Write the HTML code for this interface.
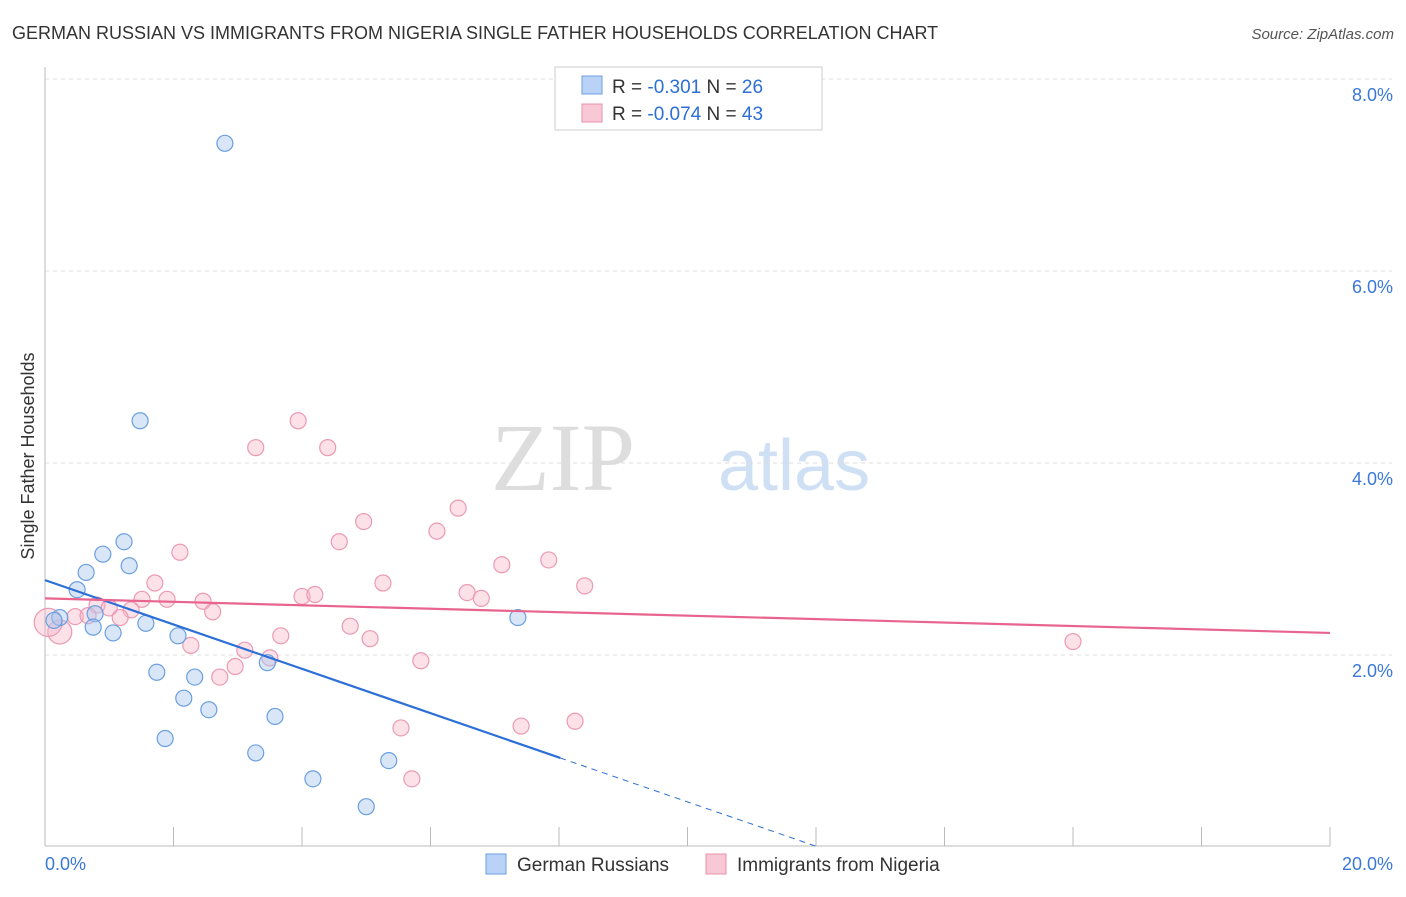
<!DOCTYPE html>
<html><head><meta charset="utf-8"><style>
body{margin:0;background:#fff;font-family:"Liberation Sans",sans-serif}
</style></head><body>
<svg width="1406" height="892" xmlns="http://www.w3.org/2000/svg">
<text x="12" y="39" font-size="18" fill="#333">GERMAN RUSSIAN VS IMMIGRANTS FROM NIGERIA SINGLE FATHER HOUSEHOLDS CORRELATION CHART</text>
<text x="1394" y="39" font-size="15" fill="#555" font-style="italic" text-anchor="end">Source: ZipAtlas.com</text>
<text x="635" y="490" font-size="96" fill="#ddd" font-family="Liberation Serif,serif" text-anchor="end">ZIP</text>
<text x="718" y="490" font-size="72" fill="#cfe0f5">atlas</text>
<g id="grid"></g>
<g id="axes"></g>
<g id="marks"></g>
<text x="34" y="456" font-size="18" fill="#333" text-anchor="middle" transform="rotate(-90 34 456)">Single Father Households</text>
<rect x="555" y="67" width="267" height="63" fill="#fff" stroke="#ccc"/>
<rect x="582" y="76" width="20" height="18" fill="#b8d3f5" stroke="#6a9fe0"/>
<rect x="582" y="104" width="20" height="18" fill="#f9c8d6" stroke="#e890ab"/>
<text x="612" y="93" font-size="19" fill="#333">R = <tspan fill="#2c6fd6">-0.301</tspan>   N = <tspan fill="#2c6fd6">26</tspan></text>
<text x="612" y="120" font-size="19" fill="#333">R = <tspan fill="#2c6fd6">-0.074</tspan>   N = <tspan fill="#2c6fd6">43</tspan></text>
<rect x="486" y="854" width="20" height="20" fill="#b8d3f5" stroke="#6a9fe0"/>
<text x="517" y="871" font-size="19" fill="#333">German Russians</text>
<rect x="706" y="854" width="20" height="20" fill="#f9c8d6" stroke="#e890ab"/>
<text x="737" y="871" font-size="19" fill="#333">Immigrants from Nigeria</text>
</svg>
<script>
const yTicks=[2,4,6,8];
const yTickLabels=["2.0%","4.0%","6.0%","8.0%"];
const xTickLabels=["0.0%","20.0%"];
const blueX=[2.80,1.48,1.23,0.90,1.31,0.64,0.50,0.78,0.23,0.14,0.75,1.06,1.57,2.07,3.46,1.74,2.33,2.16,2.55,3.58,1.87,3.28,5.35,4.17,5.00,7.36];
const blueY=[7.33,4.44,3.18,3.05,2.93,2.86,2.68,2.43,2.39,2.36,2.29,2.23,2.33,2.20,1.92,1.82,1.77,1.55,1.43,1.36,1.13,0.98,0.90,0.71,0.42,2.39];
const pinkX=[3.94,3.28,4.40,6.43,4.96,6.10,4.58,2.10,7.84,7.11,5.26,8.40,1.71,6.57,6.79,4.00,4.20,1.51,1.90,2.46,0.81,1.00,1.34,2.61,0.47,0.67,1.17,4.75,3.67,5.06,2.27,3.11,3.50,5.85,2.96,2.72,8.25,7.41,5.54,5.71,16.0,0.23,0.05];
const pinkY=[4.44,4.16,4.16,3.53,3.39,3.29,3.18,3.07,2.99,2.94,2.75,2.72,2.75,2.65,2.59,2.61,2.63,2.58,2.58,2.56,2.52,2.49,2.47,2.45,2.40,2.41,2.39,2.30,2.20,2.17,2.10,2.05,1.97,1.94,1.88,1.77,1.31,1.26,1.24,0.71,2.14,2.24,2.34];
const pinkR=pinkX.map((v,i)=>i==41?12:(i==42?14:8));
const blueTrend=[2.78,-0.231]; // intercept, slope
const pinkTrend=[2.59,-0.018];
const NS="http://www.w3.org/2000/svg";
const X=v=>45+v*64.25, Y=v=>847-v*96;
function mk(p,t,a){const e=document.createElementNS(NS,t);for(const k in a)e.setAttribute(k,a[k]);document.getElementById(p).appendChild(e);return e;}
yTicks.forEach((t,i)=>{
 const g=mk('grid','line',{x1:45,x2:1392,y1:Y(t),y2:Y(t),stroke:'#ddd','stroke-dasharray':'4,4'});
 
 
 const l=mk('grid','text',{x:1393,y:Y(t)+22,'font-size':18,fill:'#3a78d8','text-anchor':'end'});
 l.textContent=yTickLabels[i];
 
 
});
const g8=mk('grid','line',{x1:45,x2:1392,y1:79,y2:79,stroke:'#ddd','stroke-dasharray':'4,4'});


const ya=mk('axes','line',{x1:45,x2:45,y1:67,y2:846,stroke:'#bbb'});


const xa=mk('axes','line',{x1:45,x2:1330,y1:846,y2:846,stroke:'#bbb'});


for(let i=0;i<=10;i++){const tk=mk('axes','line',{x1:X(i*2),x2:X(i*2),y1:827,y2:846,stroke:'#bbb'});
 
 }
[[0,'start',45],[1,'end',1393]].forEach(([i,a,x])=>{const l=mk('axes','text',{x:x,y:870,'font-size':18,fill:'#3a78d8','text-anchor':a});l.textContent=xTickLabels[i];
 
 });
pinkX.forEach((v,i)=>{const c=mk('marks','circle',{cx:X(v),cy:Y(pinkY[i]),r:pinkR[i],fill:'rgba(248,180,200,0.4)',stroke:'#eb9ab3','stroke-width':1.2});
 
 });
blueX.forEach((v,i)=>{const c=mk('marks','circle',{cx:X(v),cy:Y(blueY[i]),r:8,fill:'rgba(170,200,240,0.45)',stroke:'#6a9fe0','stroke-width':1.2});
 
 });
const bEnd=8.02, bZero=-blueTrend[0]/blueTrend[1];
const bl=mk('marks','line',{x1:X(0),y1:Y(blueTrend[0]),x2:X(bEnd),y2:Y(blueTrend[0]+blueTrend[1]*bEnd),stroke:'#2c6fd6','stroke-width':2.2});


const bd=mk('marks','line',{x1:X(bEnd),y1:Y(blueTrend[0]+blueTrend[1]*bEnd),x2:X(bZero),y2:Y(0),stroke:'#2c6fd6','stroke-width':1,'stroke-dasharray':'6,5'});


const pl=mk('marks','line',{x1:X(0),y1:Y(pinkTrend[0]),x2:X(20),y2:Y(pinkTrend[0]+pinkTrend[1]*20),stroke:'#e8648e','stroke-width':2.2});


</script>
</body></html>
